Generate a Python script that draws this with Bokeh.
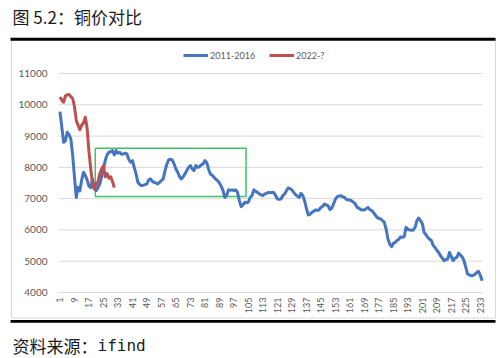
import math
from bokeh.plotting import figure
from bokeh.models import (ColumnDataSource, Legend, LegendItem, Range1d)
from bokeh.core.properties import value
from bokeh.embed import file_html
from bokeh.resources import INLINE

# ---------------- data ----------------
blue_label = "2011-2016"
red_label = "2022-?"

blue_values = [
    9780, 9300, 8800, 8850, 9120, 9050, 8910, 8400, 7700, 7040,
    7360, 7250, 7600, 7843, 7740, 7600, 7400, 7350, 7630, 7350,
    7256, 7350, 7470, 7700, 7950, 8217, 8400, 8483, 8500, 8540,
    8400, 8540, 8450, 8483, 8420, 8430, 8450, 8430, 8250, 8163,
    8217, 8000, 7790, 7522, 7450, 7417, 7430, 7450, 7470, 7600,
    7630, 7550, 7520, 7500, 7470, 7520, 7580, 7630, 7897, 8100,
    8240, 8260, 8230, 8110, 7950, 7843, 7700, 7630, 7700, 7790,
    7900, 8003, 8057, 7950, 7897, 8057, 8000, 8020, 8080, 8110,
    8217, 8150, 7950, 7790, 7750, 7683, 7620, 7577, 7500, 7400,
    7256, 7040, 7100, 7280, 7270, 7280, 7260, 7280, 7200, 6936,
    6744, 6800, 6882, 6870, 6890, 7040, 7096, 7280, 7230, 7200,
    7150, 7120, 7096, 7150, 7170, 7200, 7190, 7200, 7200, 7100,
    6990, 6980, 6990, 7100, 7150, 7250, 7343, 7320, 7280, 7200,
    7128, 7080, 7040, 7170, 7100, 6936, 6700, 6478, 6500, 6560,
    6600, 6638, 6630, 6638, 6720, 6750, 6830, 6800, 6770, 6650,
    6700, 6830, 6980, 7064, 7080, 7096, 7060, 7040, 6980, 6958,
    6958, 6930, 6880, 6830, 6722, 6700, 6650, 6638, 6638, 6680,
    6722, 6650, 6620, 6562, 6480, 6400, 6370, 6350, 6300, 6241,
    6030, 5710, 5550, 5463, 5570, 5600, 5660, 5700, 5780, 5760,
    5784, 6082, 6020, 6000, 5990, 6000, 6080, 6300, 6380, 6300,
    6200, 5920, 5850, 5760, 5700, 5660, 5500, 5440, 5350, 5280,
    5175, 5100, 5015, 5050, 5070, 5280, 5150, 5015, 5100, 5120,
    5260, 5200, 5140, 5015, 4800, 4590, 4560, 4535, 4540, 4580,
    4640, 4674, 4550, 4375,
]

red_values = [
    10250, 10150, 10080, 10280, 10320, 10330, 10260, 10200, 9950, 9500,
    9350, 9200, 9350, 9420, 9600, 9250, 8500, 7950, 7450, 7300,
    7450, 7550, 7800, 7950, 8050, 7700, 7800, 7650, 7700, 7550,
    7350,
]

blue_days = list(range(1, len(blue_values) + 1))
red_days = list(range(1, len(red_values) + 1))

x_tick_labels = [1, 9, 17, 25, 33, 41, 49, 57, 65, 73, 81, 89, 97, 105, 113, 121,
                 129, 137, 145, 153, 161, 169, 177, 185, 193, 201, 209, 217, 225, 233]
y_ticks = [4000, 5000, 6000, 7000, 8000, 9000, 10000, 11000]

# highlighted range box (category span, price span)
box_days = [20.5, 103.7]
box_prices = [7065, 8610]

title_text = "图 5.2：铜价对比"
source_text = "资料来源："
source_name = "ifind"

# ---------------- styles / layout ----------------
BLUE = "#4575C0"
RED = "#C0504D"
GREEN = "#3CC46A"
GRID = "#D9D9D9"
TXT = "#595959"
FONT = "Lato"
CJK = "Noto Sans CJK SC"
DARK = "#1a1a1a"

W, H = 503, 358
# plot area in page pixels
PL, PR, PT, PB = 58, 482, 73, 292
DAY0, DAY1 = 0.2, 234.2
VAL0, VAL1 = 4000, 11000

kx = (PR - PL) / (DAY1 - DAY0)
ky = (PB - PT) / (VAL1 - VAL0)
day_range = Range1d(DAY0 - PL / kx, DAY1 + (W - PR) / kx)
val_range = Range1d(VAL0 - (H - PB) / ky, VAL1 + PT / ky)

p = figure(width=W, height=H, output_backend="svg", toolbar_location=None,
           x_range=Range1d(0, W), y_range=Range1d(H, 0),
           x_axis_type=None, y_axis_type=None, min_border=0)
p.extra_x_ranges = {"day": day_range}
p.extra_y_ranges = {"val": val_range}
p.title.visible = False
p.outline_line_color = None
p.grid.visible = False
p.background_fill_color = "white"

# decorations (page pixel space)
p.text(x=[12], y=[16], text=[title_text], text_font=value(CJK),
       text_font_size=value("17px"), text_color=DARK, text_baseline="middle")
p.quad(left=[11], right=[495], top=[38.5], bottom=[317.5], fill_color=None,
       line_color=GRID, line_width=1)
p.quad(left=[10], right=[495], top=[37.3], bottom=[40.3], fill_color="#000000", line_color=None)
p.quad(left=[10], right=[495], top=[319.5], bottom=[322.3], fill_color="#000000", line_color=None)
p.text(x=[12], y=[345], text=[source_text], text_font=value(CJK),
       text_font_size=value("17px"), text_color=DARK, text_baseline="middle")
p.text(x=[97], y=[345], text=[source_name], text_font=value("DejaVu Sans Mono"),
       text_font_size=value("16px"), text_color=DARK, text_baseline="middle")

# gridlines and tick labels through the value / day scales
p.segment(x0=[DAY0] * len(y_ticks), x1=[DAY1] * len(y_ticks), y0=y_ticks, y1=y_ticks,
          x_range_name="day", y_range_name="val", line_color=GRID, line_width=1)
p.text(x=[PL - 11] * len(y_ticks), y=y_ticks, text=[str(t) for t in y_ticks],
       y_range_name="val", text_font=value(FONT), text_font_size=value("10px"),
       text_color=TXT, text_align="right", text_baseline="middle")
p.text(x=x_tick_labels, y=[PB + 5] * len(x_tick_labels), text=[str(t) for t in x_tick_labels],
       x_range_name="day", angle=math.pi / 2, text_font=value(FONT),
       text_font_size=value("9px"), text_color=TXT, text_align="right",
       text_baseline="middle")

# highlight box
p.quad(left=[box_days[0]], right=[box_days[1]], bottom=[box_prices[0]], top=[box_prices[1]],
       x_range_name="day", y_range_name="val",
       fill_color=None, line_color=GREEN, line_width=1.5)

# series
src_b = ColumnDataSource(dict(x=blue_days, y=blue_values))
src_r = ColumnDataSource(dict(x=red_days, y=red_values))
rb = p.line("x", "y", source=src_b, x_range_name="day", y_range_name="val",
            line_color=BLUE, line_width=3, line_join="round")
rr = p.line("x", "y", source=src_r, x_range_name="day", y_range_name="val",
            line_color=RED, line_width=3, line_join="round")

legend = Legend(items=[LegendItem(label=blue_label, renderers=[rb]),
                       LegendItem(label=red_label, renderers=[rr])],
                orientation="horizontal", location=(183, H - 65),
                padding=0, margin=0, spacing=14, glyph_width=25, glyph_height=20,
                label_standoff=2, label_text_font=FONT, label_text_font_size="9px",
                label_text_color=TXT, border_line_color=None, background_fill_alpha=0)
p.add_layout(legend, "center")

open("out.html", "w").write(file_html(p, INLINE))
